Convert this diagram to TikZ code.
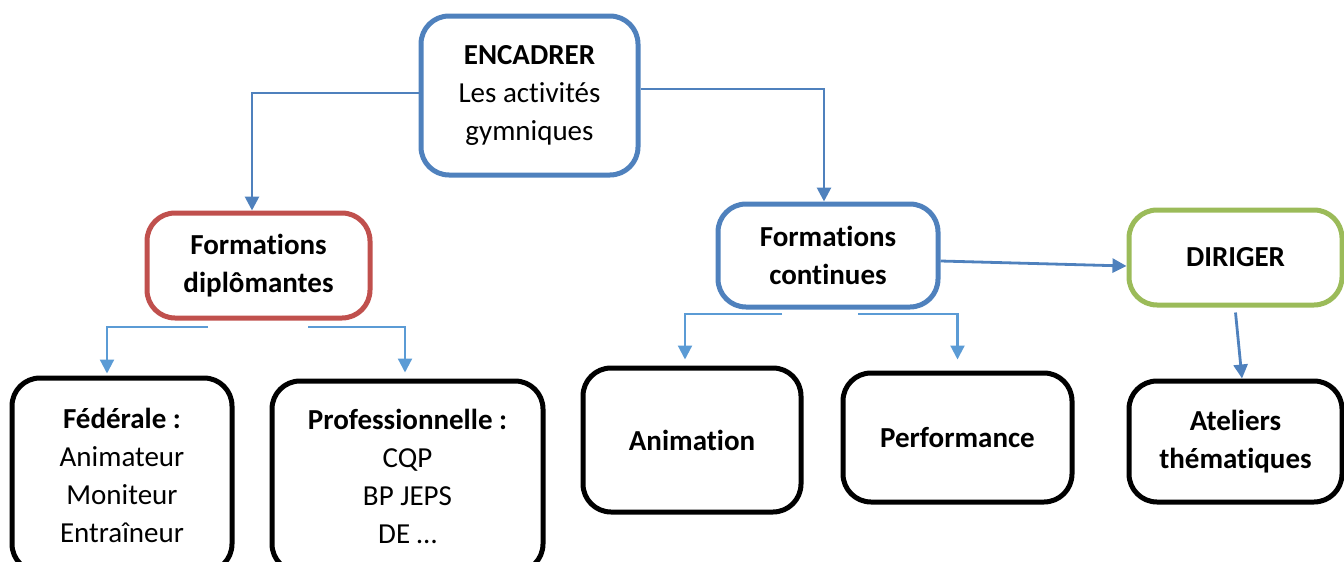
\documentclass[tikz,border=0pt]{standalone}
\usepackage{fontspec}
\setmainfont[Ligatures={NoCommon,NoContextual}]{Carlito}
\usetikzlibrary{arrows.meta}
\definecolor{bblue}{HTML}{4F81BD}
\definecolor{bred}{HTML}{C0504D}
\definecolor{bgreen}{HTML}{9BBB59}
\definecolor{lblue}{HTML}{5B9BD5}
\begin{document}
\begin{tikzpicture}[x=0.5pt,y=-0.5pt,
  box/.style={draw, rounded corners=14pt, line width=2.5pt, align=center, inner sep=0pt,
    font=\fontsize{14.5}{19}\selectfont},
  mainarrow/.style={draw=bblue, line width=1.4pt, -{Triangle[width=7pt,length=7pt]}},
  subarrow/.style={draw=lblue, line width=1.1pt, -{Triangle[width=7pt,length=7pt]}}]
\useasboundingbox (0,0) rectangle (1344,562);
\clip (0,0) rectangle (1344,562);
\node[box, draw=bblue, minimum width=108.5pt, minimum height=79.5pt] (enc) at (529.5,95.5)
  {\textbf{ENCADRER}\\Les activités\\gymniques};
\node[box, draw=bred, minimum width=111.5pt, minimum height=52.5pt] (dip) at (258.5,265.5)
  {\textbf{Formations}\\\textbf{diplômantes}};
\node[box, draw=bblue, minimum width=110pt, minimum height=51.5pt] (cont) at (828,255.5)
  {\textbf{Formations}\\\textbf{continues}};
\node[box, draw=bgreen, minimum width=106.5pt, minimum height=47.5pt] (dir) at (1235.5,257.5)
  {\textbf{DIRIGER}};
\node[box, draw=black, minimum width=110pt, minimum height=97pt] (fed) at (122,475)
  {\textbf{Fédérale :}\\Animateur\\Moniteur\\Entraîneur};
\node[box, draw=black, minimum width=135.5pt, minimum height=95.5pt] (prof) at (407.5,476.5)
  {\textbf{Professionnelle :}\\CQP\\BP JEPS\\DE …};
\node[box, draw=black, minimum width=109pt, minimum height=72pt] (anim) at (692,440)
  {\textbf{Animation}};
\node[box, draw=black, minimum width=114.5pt, minimum height=64.5pt] (perf) at (957.5,437.5)
  {\textbf{Performance}};
\node[box, draw=black, minimum width=106.5pt, minimum height=60.5pt] (atel) at (1235.5,441.5)
  {\textbf{Ateliers}\\\textbf{thématiques}};
% main connectors
\draw[mainarrow] ([yshift=1.25pt]enc.west) -| ([xshift=-3.25pt]dip.north);
\draw[mainarrow] ([yshift=3.25pt]enc.east) -| ([xshift=-2pt]cont.north);
\draw[mainarrow] ([yshift=-2.75pt]cont.east) -- ([yshift=-4.25pt]dir.west);
\draw[mainarrow] ([yshift=-2.5pt]dir.south) -- ([xshift=3.25pt]atel.north);
% sub connectors
\coordinate (dl) at (208,327);
\coordinate (dr) at (308,327);
\coordinate (cl) at (782,314);
\coordinate (cr) at (858,314);
\draw[subarrow] (dl) -| ([xshift=-7.5pt,yshift=1pt]fed.north);
\draw[subarrow] (dr) -| ([xshift=-1.25pt,yshift=3pt]prof.north);
\draw[subarrow] (cl) -| ([xshift=-3.5pt,yshift=3pt]anim.north);
\draw[subarrow] (cr) -| ([yshift=5.5pt]perf.north);
\end{tikzpicture}
\end{document}
